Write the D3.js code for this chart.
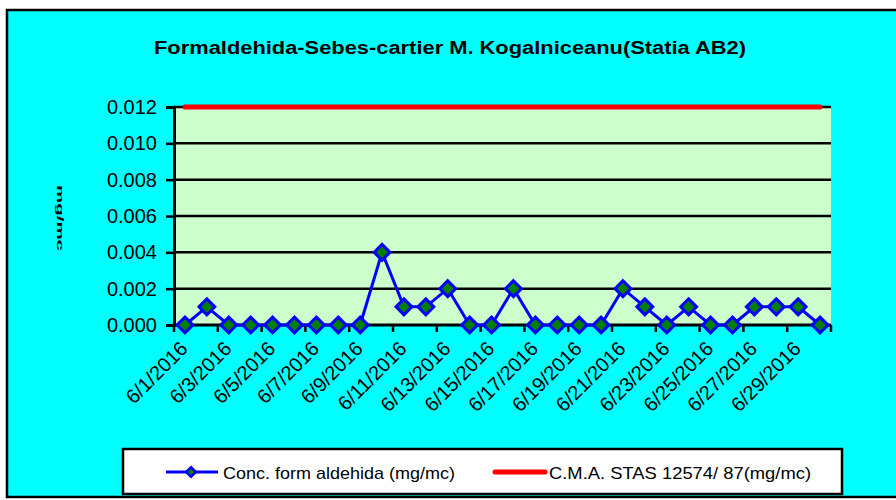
<!DOCTYPE html>
<html>
<head>
<meta charset="utf-8">
<script src="https://cdn.jsdelivr.net/npm/d3@7"></script>
<style>
  body { margin: 0; background: #fff; }
  text { font-family: "Liberation Sans", Arial, sans-serif; }
</style>
</head>
<body>
<div id="chart"></div>
<script>
// data
const dates = ["6/1/2016","6/2/2016","6/3/2016","6/4/2016","6/5/2016","6/6/2016","6/7/2016","6/8/2016","6/9/2016","6/10/2016",
  "6/11/2016","6/12/2016","6/13/2016","6/14/2016","6/15/2016","6/16/2016","6/17/2016","6/18/2016","6/19/2016","6/20/2016",
  "6/21/2016","6/22/2016","6/23/2016","6/24/2016","6/25/2016","6/26/2016","6/27/2016","6/28/2016","6/29/2016","6/30/2016"];
const conc = [0, 0.001, 0, 0, 0, 0, 0, 0, 0, 0.004,
  0.001, 0.001, 0.002, 0, 0, 0.002, 0, 0, 0, 0,
  0.002, 0.001, 0, 0.001, 0, 0, 0.001, 0.001, 0.001, 0];
const cma = dates.map(() => 0.012);
const yTicks = [0, 0.002, 0.004, 0.006, 0.008, 0.010, 0.012];
const title = "Formaldehida-Sebes-cartier M. Kogalniceanu(Statia AB2)";
const seriesNames = ["Conc. form aldehida (mg/mc)", "C.M.A. STAS 12574/ 87(mg/mc)"];

const W = 896, H = 500;
const plot = {left: 174, right: 831, top: 107, bottom: 325};

const svg = d3.select("#chart").append("svg")
  .attr("width", W).attr("height", H);

// chart area
svg.append("rect")
  .attr("x", 7).attr("y", 10).attr("width", 900).attr("height", 487)
  .attr("fill", "#00FFFF").attr("stroke", "#000").attr("stroke-width", 2.5);

svg.append("text")
  .attr("x", 450).attr("y", 54)
  .attr("text-anchor", "middle")
  .attr("font-size", 18).attr("font-weight", "bold")
  .attr("textLength", 592).attr("lengthAdjust", "spacingAndGlyphs")
  .text(title);

// scales
const x = d3.scaleBand().domain(dates).range([plot.left, plot.right]);
const y = d3.scaleLinear().domain([0, 0.012]).range([plot.bottom, plot.top]);

// plot background
svg.append("rect")
  .attr("x", plot.left).attr("y", plot.top)
  .attr("width", plot.right - plot.left).attr("height", plot.bottom - plot.top)
  .attr("fill", "#CCFFCC");

// gridlines
svg.append("g").selectAll("line")
  .data(yTicks.slice(1))
  .join("line")
  .attr("x1", plot.left).attr("x2", plot.right)
  .attr("y1", d => y(d)).attr("y2", d => y(d))
  .attr("stroke", "#000").attr("stroke-width", 2.5);

// y axis
const yAxis = svg.append("g")
  .attr("transform", `translate(${plot.left},0)`)
  .call(d3.axisLeft(y).tickValues(yTicks).tickFormat(d3.format(".3f")).tickSize(8).tickPadding(9));
yAxis.select(".domain").attr("stroke", "#000").attr("stroke-width", 3);
yAxis.selectAll(".tick line").attr("stroke", "#000").attr("stroke-width", 2.5);
yAxis.selectAll(".tick text")
  .attr("font-family", "Liberation Sans, Arial, sans-serif")
  .attr("font-size", 20).attr("fill", "#000");

// x axis: ticks at every second band boundary
const bounds = dates.filter((d, i) => i % 2 === 0).map(d => x(d)).concat([plot.right]);
svg.append("line")
  .attr("x1", plot.left).attr("x2", plot.right)
  .attr("y1", plot.bottom).attr("y2", plot.bottom)
  .attr("stroke", "#000").attr("stroke-width", 3);
svg.append("g").selectAll("line")
  .data(bounds)
  .join("line")
  .attr("x1", d => d).attr("x2", d => d)
  .attr("y1", plot.bottom).attr("y2", plot.bottom + 7)
  .attr("stroke", "#000").attr("stroke-width", 2.5);

svg.append("g").selectAll("text")
  .data(dates.filter((d, i) => i % 2 === 0))
  .join("text")
  .attr("transform", d => `translate(${x(d) + x.bandwidth() / 2 + 4},350) rotate(-45)`)
  .attr("text-anchor", "end")
  .attr("font-size", 20)
  .text(d => d);

// y axis title
svg.append("text")
  .attr("transform", "translate(57,218) rotate(90)")
  .attr("text-anchor", "middle")
  .attr("font-size", 9).attr("font-weight", "bold")
  .attr("textLength", 66).attr("lengthAdjust", "spacingAndGlyphs")
  .text("mg/mc");

// CMA line
const cx = d => x(d) + x.bandwidth() / 2;
svg.append("path")
  .datum(dates)
  .attr("fill", "none").attr("stroke", "#FF0000").attr("stroke-width", 5)
  .attr("stroke-linecap", "round")
  .attr("d", d3.line().x(d => cx(d)).y((d, i) => y(cma[i])));

// concentration line
svg.append("path")
  .datum(dates)
  .attr("fill", "none").attr("stroke", "#0000FF").attr("stroke-width", 3)
  .attr("d", d3.line().x(d => cx(d)).y((d, i) => y(conc[i])));

const diamond = d3.symbol().type(d3.symbolDiamond2).size(160);
svg.append("g").selectAll("path")
  .data(dates)
  .join("path")
  .attr("transform", (d, i) => `translate(${cx(d)},${y(conc[i])})`)
  .attr("d", diamond)
  .attr("fill", "#008000").attr("stroke", "#0000FF").attr("stroke-width", 3);

// legend
svg.append("rect")
  .attr("x", 123).attr("y", 449).attr("width", 719).attr("height", 45)
  .attr("fill", "#fff").attr("stroke", "#000").attr("stroke-width", 2.5);
const lg = svg.append("g");
lg.append("line").attr("x1", 166).attr("x2", 218).attr("y1", 472).attr("y2", 472)
  .attr("stroke", "#0000FF").attr("stroke-width", 3);
lg.append("path").attr("transform", "translate(191,472)")
  .attr("d", d3.symbol().type(d3.symbolDiamond2).size(60))
  .attr("fill", "#008000").attr("stroke", "#0000FF").attr("stroke-width", 2.5);
lg.append("text").attr("x", 223).attr("y", 479).attr("font-size", 17)
  .attr("textLength", 232).attr("lengthAdjust", "spacingAndGlyphs")
  .text(seriesNames[0]);
lg.append("line").attr("x1", 495).attr("x2", 545).attr("y1", 472).attr("y2", 472)
  .attr("stroke", "#FF0000").attr("stroke-width", 5).attr("stroke-linecap", "round");
lg.append("text").attr("x", 549).attr("y", 479).attr("font-size", 17)
  .attr("textLength", 262).attr("lengthAdjust", "spacingAndGlyphs")
  .text(seriesNames[1]);
</script>
</body>
</html>
